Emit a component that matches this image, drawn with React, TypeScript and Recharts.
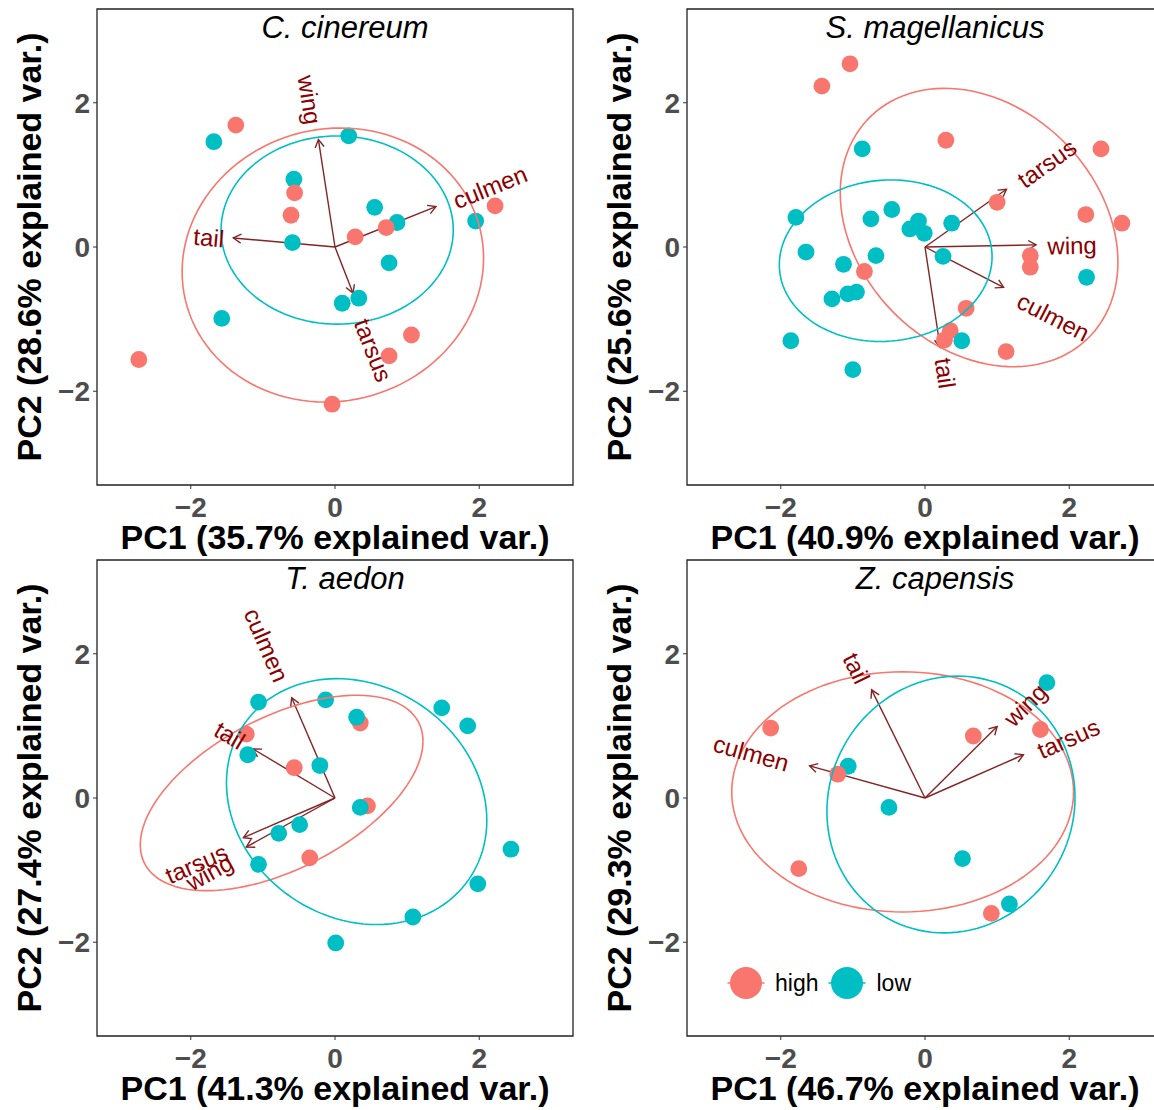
import React from 'react';
import { ScatterChart, Scatter, XAxis, YAxis, ReferenceLine, ReferenceArea, Legend } from 'recharts';

const FONT = '"Liberation Sans", Arial, Helvetica, sans-serif';

const groups = ['high', 'low'];
const groupColors: Record<string, string> = { high: '#F8766D', low: '#00BFC4' };

const species = ['C. cinereum', 'S. magellanicus', 'T. aedon', 'Z. capensis'];
const pc1Explained = [35.7, 40.9, 41.3, 46.7];
const pc2Explained = [28.6, 25.6, 27.4, 29.3];
const axisTicks = [-2, 0, 2];

// PC scores [PC1, PC2]
const cinereumHigh = [[-1.375, 1.69], [-0.56, 0.75], [-0.61, 0.44], [0.28, 0.14], [0.71, 0.27], [2.22, 0.57], [-2.72, -1.56], [1.06, -1.22], [0.75, -1.51], [-0.04, -2.18]];
const cinereumLow = [[-1.68, 1.46], [0.19, 1.54], [-0.57, 0.94], [-0.59, 0.06], [0.55, 0.55], [0.86, 0.34], [1.95, 0.36], [0.75, -0.22], [0.1, -0.78], [0.33, -0.71], [-1.57, -0.99]];

const magellanicusHigh = [[-1.04, 2.54], [-1.43, 2.23], [0.29, 1.48], [2.44, 1.36], [1.0, 0.62], [2.23, 0.45], [2.73, 0.33], [1.46, -0.12], [1.46, -0.28], [-0.84, -0.34], [0.57, -0.85], [0.35, -1.16], [0.27, -1.29], [1.125, -1.45]];
const magellanicusLow = [[-0.87, 1.36], [-1.79, 0.41], [-0.75, 0.39], [-0.46, 0.52], [-0.09, 0.36], [-0.21, 0.25], [-0.01, 0.19], [0.37, 0.33], [-1.65, -0.07], [-0.68, -0.12], [-1.13, -0.24], [0.25, -0.13], [2.24, -0.42], [-1.29, -0.72], [-1.07, -0.65], [-0.95, -0.625], [-1.86, -1.3], [-1.0, -1.7], [0.51, -1.3]];

const aedonHigh = [[-1.23, 0.885], [0.35, 1.04], [-0.565, 0.42], [0.45, -0.11], [-0.35, -0.83]];
const aedonLow = [[-1.06, 1.33], [-0.13, 1.36], [0.3, 1.12], [1.48, 1.25], [1.84, 1.0], [-1.21, 0.6], [-0.21, 0.45], [0.35, -0.13], [-0.49, -0.37], [-0.78, -0.49], [-1.06, -0.92], [2.44, -0.71], [1.98, -1.19], [1.08, -1.65], [0.01, -2.01]];

const capensisHigh = [[-2.14, 0.97], [0.67, 0.86], [1.6, 0.95], [-1.21, 0.33], [-1.75, -0.98], [0.92, -1.6]];
const capensisLow = [[1.69, 1.6], [-1.065, 0.44], [-0.5, -0.13], [0.52, -0.84], [1.17, -1.47]];

// variable loadings: name, PC1, PC2, label PC1, label PC2
const cinereumVars: [string, number, number, number, number][] = [
  ['wing', -0.23, 1.49, -0.35, 2.04],
  ['culmen', 1.4, 0.56, 2.15, 0.83],
  ['tail', -1.41, 0.125, -1.75, 0.13],
  ['tarsus', 0.25, -0.64, 0.53, -1.43],
];
const magellanicusVars: [string, number, number, number, number][] = [
  ['tarsus', 1.13, 0.8, 1.69, 1.16],
  ['wing', 1.54, 0.03, 2.04, 0.02],
  ['culmen', 1.09, -0.56, 1.78, -0.97],
  ['tail', 0.21, -1.39, 0.28, -1.75],
];
const aedonVars: [string, number, number, number, number][] = [
  ['culmen', -0.6, 1.39, -0.95, 2.12],
  ['tail', -1.135, 0.68, -1.46, 0.87],
  ['tarsus', -1.27, -0.55, -1.92, -0.91],
  ['wing', -1.23, -0.68, -1.74, -1.03],
];
const capensisVars: [string, number, number, number, number][] = [
  ['tail', -0.74, 1.5, -0.95, 1.8],
  ['culmen', -1.6, 0.445, -2.41, 0.62],
  ['wing', 1.0, 0.99, 1.39, 1.29],
  ['tarsus', 1.365, 0.6, 1.99, 0.825],
];

// 68% normal ellipses: centre x, centre y, half-width, half-height, correlation
const cinereumEllipses = { high: [-0.03, -0.25, 2.09, 1.9, 0.05], low: [0.03, 0.235, 1.61, 1.305, 0] };
const magellanicusEllipses = { high: [0.75, 0.27, 1.925, 1.93, -0.248], low: [-0.545, -0.19, 1.475, 1.12, 0.05] };
const aedonEllipses = { high: [-0.74, 0.07, 1.96, 1.355, 0.53], low: [0.3, -0.05, 1.805, 1.705, -0.153] };
const capensisEllipses = { high: [-0.31, 0.085, 2.37, 1.665, 0], low: [0.36, -0.09, 1.72, 1.78, 0.055] };

const panels = [
  { high: cinereumHigh, low: cinereumLow, vars: cinereumVars, ell: cinereumEllipses, highOnTop: true },
  { high: magellanicusHigh, low: magellanicusLow, vars: magellanicusVars, ell: magellanicusEllipses, highOnTop: false },
  { high: aedonHigh, low: aedonLow, vars: aedonVars, ell: aedonEllipses, highOnTop: false },
  { high: capensisHigh, low: capensisLow, vars: capensisVars, ell: capensisEllipses, highOnTop: true },
];

const toPts = (a: number[][]) => a.map(([x, y]) => ({ x, y }));

const ellipseOutline = ([cx, cy, sx, sy, r]: number[]) => {
  const out: { x: number; y: number }[] = [];
  const n = 120;
  for (let i = 0; i <= n; i++) {
    const t = (i / n) * 2 * Math.PI;
    out.push({
      x: cx + sx * Math.cos(t),
      y: cy + sy * (r * Math.cos(t) + Math.sqrt(1 - r * r) * Math.sin(t)),
    });
  }
  return out;
};

const fmtTick = (v: number) => (v < 0 ? `\u2212${Math.abs(v)}` : `${v}`);

const ARROW = '#832424';

const ArrowShape = (props: any) => {
  const { x1, y1, x2, y2 } = props;
  const ang = Math.atan2(y2 - y1, x2 - x1);
  const head = 9;
  const a1 = ang + Math.PI - Math.PI / 6;
  const a2 = ang + Math.PI + Math.PI / 6;
  return (
    <g>
      <line x1={x1} y1={y1} x2={x2} y2={y2} stroke={ARROW} strokeWidth={1.4} />
      <polyline
        points={`${x2 + head * Math.cos(a1)},${y2 + head * Math.sin(a1)} ${x2},${y2} ${x2 + head * Math.cos(a2)},${y2 + head * Math.sin(a2)}`}
        fill="none"
        stroke={ARROW}
        strokeWidth={1.4}
      />
    </g>
  );
};

const VarLabel = (props: any) => {
  const { cx, cy, payload } = props;
  const angle = (-Math.atan(payload.vy / payload.vx) * 180) / Math.PI;
  return (
    <text
      x={cx}
      y={cy}
      transform={`rotate(${angle} ${cx} ${cy})`}
      textAnchor="middle"
      dominantBaseline="central"
      fontSize={24}
      fontFamily={FONT}
      fill="#8B0000"
    >
      {payload.name}
    </text>
  );
};

const dotShape = (color: string) => (s: any) => <circle cx={s.cx} cy={s.cy} r={8.4} fill={color} />;

const LegendContent = () => (
  <div style={{ display: 'flex', alignItems: 'center', fontFamily: FONT, fontSize: 23 }}>
    {groups.map((g) => (
      <div key={g} style={{ display: 'flex', alignItems: 'center', marginRight: 9 }}>
        <svg width={40} height={34}>
          <line x1={1.5} y1={17} x2={38.5} y2={17} stroke={groupColors[g]} strokeWidth={1.6} />
          <circle cx={20} cy={17} r={16} fill={groupColors[g]} />
        </svg>
        <span style={{ marginLeft: 9, color: '#000' }}>{g}</span>
      </div>
    ))}
  </div>
);

const Panel = ({ index }: { index: number }) => {
  const p = panels[index];
  const order = p.highOnTop ? ['low', 'high'] : ['high', 'low'];
  const labelData = p.vars.map(([name, vx, vy, lx, ly]) => ({ x: lx, y: ly, name, vx, vy }));
  return (
    <div style={{ position: 'absolute', left: (index % 2) * 590, top: Math.floor(index / 2) * 551, width: 590, height: 551 }}>
      <ScatterChart width={590} height={551} margin={{ top: 9, right: 17, bottom: 0, left: 0 }}>
        <XAxis
          type="number"
          dataKey="x"
          domain={[-3.3, 3.3]}
          ticks={axisTicks}
          interval={0}
          allowDataOverflow
          axisLine={false}
          tickLine={{ stroke: '#333333' }}
          tickSize={4}
          tickMargin={8}
          height={66}
          tickFormatter={fmtTick}
          tick={{ fill: '#4D4D4D', fontSize: 28, fontWeight: 'bold', fontFamily: FONT }}
          label={{
            content: (lp: any) => {
              const vb = lp.viewBox;
              return (
                <text x={vb.x + vb.width / 2} y={vb.y + 64} textAnchor="middle" fontSize={34} fontWeight="bold" fontFamily={FONT} fill="#000">
                  {`PC1 (${pc1Explained[index]}% explained var.)`}
                </text>
              );
            },
          }}
        />
        <YAxis
          type="number"
          dataKey="y"
          domain={[-3.3, 3.3]}
          ticks={axisTicks}
          interval={0}
          allowDataOverflow
          axisLine={false}
          tickLine={{ stroke: '#333333' }}
          tickSize={4}
          tickMargin={3}
          width={97}
          tickFormatter={fmtTick}
          tick={{ fill: '#4D4D4D', fontSize: 28, fontWeight: 'bold', fontFamily: FONT }}
          label={{
            content: (lp: any) => {
              const vb = lp.viewBox;
              const cy = vb.y + vb.height / 2;
              return (
                <text transform={`translate(${vb.x + 41}, ${cy}) rotate(-90)`} textAnchor="middle" fontSize={34} fontWeight="bold" fontFamily={FONT} fill="#000">
                  {`PC2 (${pc2Explained[index]}% explained var.)`}
                </text>
              );
            },
          }}
        />
        <ReferenceArea x1={-3.3} x2={3.3} y1={-3.3} y2={3.3} fill="none" fillOpacity={0} stroke="#222222" strokeWidth={1.3} ifOverflow="visible" />
        {p.vars.map(([name, vx, vy]) => (
          <ReferenceLine key={name} segment={[{ x: 0, y: 0 }, { x: vx, y: vy }]} shape={ArrowShape} ifOverflow="visible" />
        ))}
        {order.map((g) => (
          <Scatter
            key={`pts-${g}`}
            name={g}
            data={toPts(g === 'high' ? p.high : p.low)}
            fill={groupColors[g]}
            shape={dotShape(groupColors[g])}
            isAnimationActive={false}
          />
        ))}
        {groups.map((g) => (
          <Scatter
            key={`ell-${g}`}
            data={ellipseOutline((p.ell as any)[g])}
            fill="none"
            line={{ stroke: groupColors[g], strokeWidth: 1.6 }}
            lineType="joint"
            shape={() => <g />}
            legendType="none"
            isAnimationActive={false}
          />
        ))}
        <Scatter data={labelData} shape={VarLabel} legendType="none" isAnimationActive={false} />
        {index === 3 && (
          <Legend
            layout="vertical"
            align="center"
            verticalAlign="middle"
            wrapperStyle={{ left: 136, top: 415, width: 'auto', height: 'auto' }}
            content={LegendContent}
          />
        )}
      </ScatterChart>
      <div
        style={{
          position: 'absolute',
          left: 97 + 10,
          top: 12,
          width: 476,
          textAlign: 'center',
          fontFamily: FONT,
          fontStyle: 'italic',
          fontSize: 31,
          lineHeight: '31px',
          color: '#000',
          pointerEvents: 'none',
        }}
      >
        {species[index]}
      </div>
    </div>
  );
};

export default function App() {
  return (
    <div style={{ position: 'absolute', left: 0, top: 0, width: 1154, height: 1110, overflow: 'hidden', background: '#fff' }}>
      <style>{'.recharts-surface { overflow: visible; } .recharts-wrapper { overflow: visible; }'}</style>
      {panels.map((_, i) => (
        <Panel key={i} index={i} />
      ))}
    </div>
  );
}
